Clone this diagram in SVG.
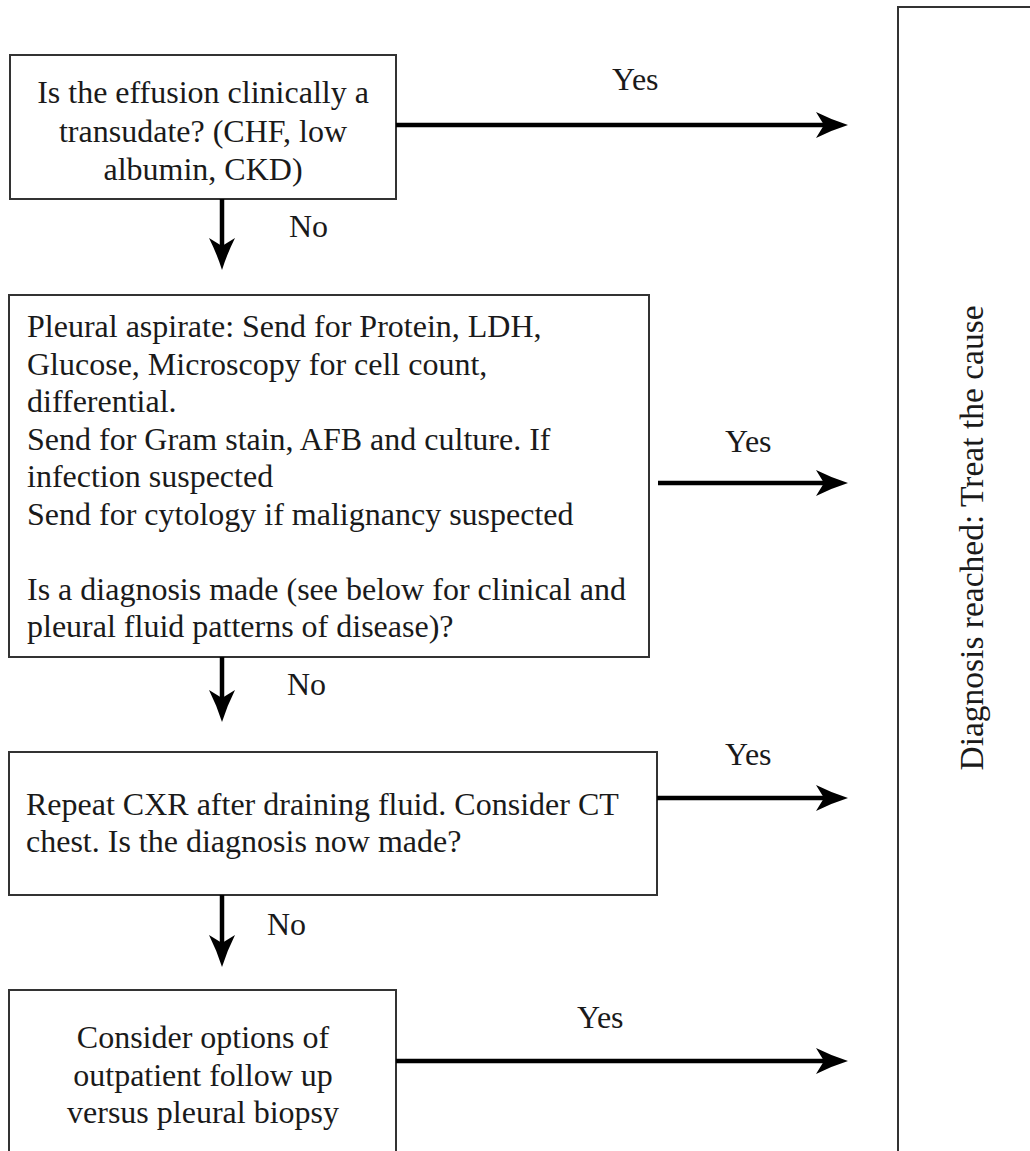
<svg xmlns="http://www.w3.org/2000/svg" width="1030" height="1151" viewBox="0 0 1030 1151">
  <style>
    .box { fill: #ffffff; stroke: #333333; stroke-width: 2; }
    .txt { font-family: 'Liberation Serif', Tinos, 'Times New Roman', Times, serif; font-size: 32px; fill: #1a1a1a; }
    .mid { text-anchor: middle; }
    .link { stroke: #000000; stroke-width: 4.5; fill: none; }
  </style>
  <defs>
    <marker id="head" viewBox="-34 -15 38 30" refX="-16" refY="0" markerWidth="38" markerHeight="30" markerUnits="userSpaceOnUse" orient="auto">
      <path d="M0,0 Q-16,-5 -32,-13 L-24,0 L-32,13 Q-16,5 0,0 Z" fill="#000000"/>
    </marker>
  </defs>

  <rect width="1030" height="1151" fill="#ffffff"/>

  <!-- outcome column -->
  <g id="node-outcome">
    <rect class="box" x="898" y="7" width="150" height="1160"/>
    <text class="txt mid" style="font-size:33.5px" transform="translate(983,538) rotate(-90)">Diagnosis reached: Treat the cause</text>
  </g>

  <!-- step 1 -->
  <g id="node-transudate">
    <rect class="box" x="10" y="55" width="386" height="144"/>
    <text class="txt mid" x="203" y="103">Is the effusion clinically a</text>
    <text class="txt mid" x="203" y="141.5">transudate? (CHF, low</text>
    <text class="txt mid" x="203" y="180">albumin, CKD)</text>
  </g>

  <!-- step 2 -->
  <g id="node-aspirate">
    <rect class="box" x="9" y="295" width="640" height="362"/>
    <text class="txt" x="27" y="337">Pleural aspirate: Send for Protein, LDH,</text>
    <text class="txt" x="27" y="374.5">Glucose, Microscopy for cell count,</text>
    <text class="txt" x="27" y="412">differential.</text>
    <text class="txt" x="27" y="449.5">Send for Gram stain, AFB and culture. If</text>
    <text class="txt" x="27" y="487">infection suspected</text>
    <text class="txt" x="27" y="524.5">Send for cytology if malignancy suspected</text>
    <text class="txt" x="27" y="599.5">Is a diagnosis made (see below for clinical and</text>
    <text class="txt" x="27" y="637">pleural fluid patterns of disease)?</text>
  </g>

  <!-- step 3 -->
  <g id="node-repeat-cxr">
    <rect class="box" x="9" y="752" width="648" height="143"/>
    <text class="txt" x="26" y="815">Repeat CXR after draining fluid. Consider CT</text>
    <text class="txt" x="26" y="852">chest. Is the diagnosis now made?</text>
  </g>

  <!-- step 4 -->
  <g id="node-options">
    <rect class="box" x="9" y="990" width="387" height="180"/>
    <text class="txt mid" x="203" y="1048">Consider options of</text>
    <text class="txt mid" x="203" y="1086">outpatient follow up</text>
    <text class="txt mid" x="203" y="1123">versus pleural biopsy</text>
  </g>

  <!-- connectors -->
  <g id="connectors">
    <line class="link" x1="396" y1="125" x2="832" y2="125" marker-end="url(#head)"/>
    <line class="link" x1="658" y1="483" x2="832" y2="483" marker-end="url(#head)"/>
    <line class="link" x1="657" y1="798" x2="832" y2="798" marker-end="url(#head)"/>
    <line class="link" x1="396" y1="1061" x2="832" y2="1061" marker-end="url(#head)"/>

    <line class="link" x1="222" y1="199" x2="222" y2="254" marker-end="url(#head)"/>
    <line class="link" x1="222" y1="657" x2="222" y2="706" marker-end="url(#head)"/>
    <line class="link" x1="222" y1="895" x2="222" y2="951" marker-end="url(#head)"/>

    <text class="txt" x="612" y="90">Yes</text>
    <text class="txt" x="725" y="452">Yes</text>
    <text class="txt" x="725" y="765">Yes</text>
    <text class="txt" x="577" y="1028">Yes</text>

    <text class="txt" x="289" y="237">No</text>
    <text class="txt" x="287" y="695">No</text>
    <text class="txt" x="267" y="935">No</text>
  </g>
</svg>
